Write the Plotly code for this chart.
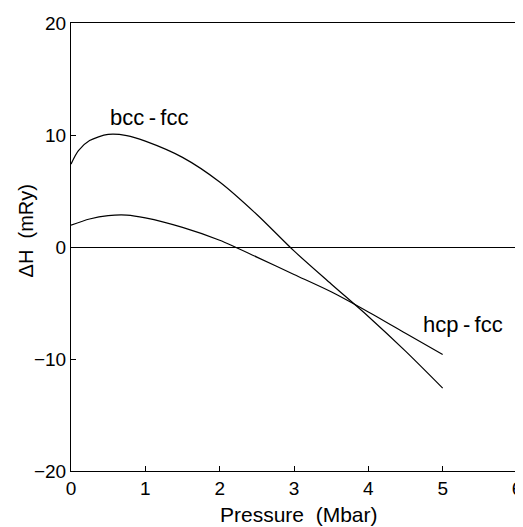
import plotly.graph_objects as go

bcc_x = [0, 0.1, 0.25, 0.5, 0.75, 1.0, 1.5, 2.0, 2.5, 3.0, 3.5, 4.0, 4.5, 5.0]
bcc_y = [7.4, 8.6, 9.5, 10.05, 9.95, 9.45, 8.0, 5.8, 2.9, -0.35, -3.3, -6.2, -9.3, -12.6]
hcp_x = [0, 0.25, 0.5, 0.75, 1.0, 1.5, 2.0, 2.5, 3.0, 3.5, 4.0, 4.5, 5.0]
hcp_y = [1.95, 2.5, 2.8, 2.85, 2.6, 1.75, 0.6, -0.9, -2.45, -4.0, -5.8, -7.7, -9.6]

x_ticks = [0, 1, 2, 3, 4, 5, 6]
y_ticks = [-20, -10, 0, 10, 20]
y_tick_text = ["\u221220", "\u221210", "0", "10", "20"]

line_style = dict(color="black", width=1.2, shape="spline", smoothing=0.8)

fig = go.Figure()
fig.add_trace(go.Scatter(x=bcc_x, y=bcc_y, mode="lines", line=line_style, name="bcc-fcc"))
fig.add_trace(go.Scatter(x=hcp_x, y=hcp_y, mode="lines", line=line_style, name="hcp-fcc"))

fig.add_annotation(x=1.05, y=11.6, text="bcc\u2009-\u2009fcc", showarrow=False, font=dict(size=22, color="black"))
fig.add_annotation(x=5.28, y=-6.9, text="hcp\u2009-\u2009fcc", showarrow=False, font=dict(size=22, color="black"))

# axis titles as paper annotations
fig.add_annotation(x=0.511, y=-0.097, xref="paper", yref="paper", text="Pressure  (Mbar)",
                   showarrow=False, font=dict(size=21, color="black"), xanchor="center", yanchor="middle")
fig.add_annotation(x=-0.102, y=0.536, xref="paper", yref="paper", text="\u0394H  (mRy)", textangle=-90,
                   showarrow=False, font=dict(size=20, color="black"), xanchor="center", yanchor="middle")

fig.update_layout(
    width=515, height=519,
    margin=dict(l=63, r=6, t=15, b=56),
    paper_bgcolor="white", plot_bgcolor="white",
    showlegend=False,
    font=dict(family="Liberation Sans, Arial, sans-serif", color="black", size=19),
    xaxis=dict(range=[0, 6], tickvals=x_ticks, ticks="inside", ticklen=5, tickcolor="black",
               ticklabeloverflow="allow", automargin=False,
               showline=True, linecolor="black", linewidth=1, mirror=True, showgrid=False, zeroline=False),
    yaxis=dict(range=[-20, 20], tickvals=y_ticks, ticktext=y_tick_text, ticks="inside", ticklen=5, tickcolor="black",
               automargin=False,
               showline=True, linecolor="black", linewidth=1, mirror=True, showgrid=False,
               zeroline=True, zerolinecolor="black", zerolinewidth=1),
)

fig.write_html("out.html")
